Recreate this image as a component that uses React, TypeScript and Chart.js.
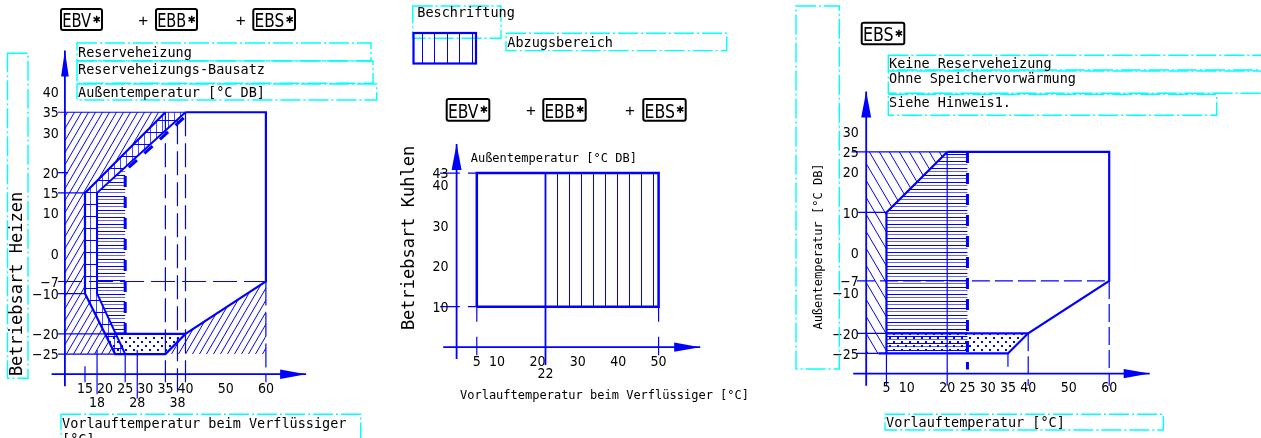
import { useEffect, useRef } from 'react';
import { Chart, registerables } from 'chart.js';

Chart.register(...registerables);

type P = [number, number];

const W = 1261;
const H = 438;
const BLUE = '#0000ff';
const CYAN = '#00ffff';
const MONO = '"DejaVu Sans Mono", "Liberation Mono", monospace';
const NARROW = '"Liberation Sans Narrow", "DejaVu Sans Condensed", sans-serif';

// ---------- Left panel: Betriebsart Heizen (EBV + EBB + EBS) ----------
const heatYTicks = [40, 35, 30, 20, 15, 10, 0, -7, -10, -20, -25];
const heatXTicks = [15, 20, 25, 30, 35, 40, 50, 60];
const heatXTicksLow = [18, 28, 38];
const heatXAxis: P[] = [[6.7, -30], [70, -30]];
const heatYAxis: P[] = [[10, -33], [10, 50.3]];
const heatOutline: P[] = [[35, 35], [15, 15], [15, -10], [22.5, -25], [35, -25], [40, -20], [60, -7], [60, 35], [40, 35]];
const heatInner: P[] = [[40, 35], [18, 15], [18, -10], [25, -25]];
const heatLowLimit: P[] = [[20, -20], [40, -20]];
const heatDashEdge: P[] = [[25, -20], [25, 20.5], [40, 34]];
const heatHatchLeft: P[] = [[10, 35], [35, 35], [15, 15], [15, -10], [22.5, -25], [10, -25]];
const heatHatchRight: P[] = [[40, -20], [60, -7], [60, -25], [35, -25]];
const heatGrid: P[] = [[15, 15], [35, 35], [40, 35], [18, 15], [18, -10], [25, -25], [22.5, -25], [15, -10]];
const heatDense: P[] = [[18, 15], [25, 21.4], [25, -20], [22.7, -20], [18, -10]];
const heatDots: P[] = [[20, -20], [40, -20], [35, -25], [22.5, -25]];
const heatGuides: P[][] = [
  [[8.3, -7], [60, -7]],
  [[35, 35], [35, -32]],
  [[38, 33], [38, -36]],
  [[40, 35], [40, -32]],
  [[60, -7], [60, -32]],
];
const heatTickMarks: P[][] = [
  [[8.3, 35], [40, 35]],
  [[8.3, 20], [10.8, 20]],
  [[8.3, 15], [15, 15]],
  [[8.3, -10], [15, -10]],
  [[8.3, -20], [20, -20]],
  [[8.3, -25], [22.5, -25]],
  [[15, -28], [15, -32]],
  [[18, -24], [18, -35]],
  [[25, -25], [25, -32]],
  [[28, -24], [28, -36]],
];

// ---------- Middle panel: Betriebsart Kuhlen ----------
const coolYTicks = [43, 40, 30, 20, 10];
const coolXTicks = [5, 10, 20, 30, 40, 50];
const coolXTicksLow = [22];
const coolXAxis: P[] = [[-3.3, 0], [60.3, 0]];
const coolYAxis: P[] = [[0, -2.9], [0, 50.2]];
const coolRange: P[] = [[5, 10], [5, 43], [50, 43], [50, 10], [5, 10]];
const coolDeduction: P[] = [[22, 10], [22, 43], [50, 43], [50, 10]];
const coolDivider: P[] = [[22, 43], [22, -4.4]];
const coolTickMarks: P[][] = [
  [[5, 10], [5, 6.3]],
  [[5, 2.6], [5, -2]],
  [[50, 10], [50, 6.3]],
  [[50, 2.6], [50, -2]],
  [[-4.1, 10], [0.8, 10]],
  [[2.8, 10], [5, 10]],
  [[-4.1, 43], [0.8, 43]],
  [[2.8, 43], [5, 43]],
];

// ---------- Right panel: EBS ----------
const ebsYTicks = [30, 25, 20, 10, 0, -7, -10, -20, -25];
const ebsXTicks = [5, 10, 20, 25, 30, 35, 40, 50, 60];
const ebsXAxis: P[] = [[-3.2, -30], [70, -30]];
const ebsYAxis: P[] = [[0, -33], [0, 40]];
const ebsOutline: P[] = [[20, 25], [60, 25], [60, -7], [40, -20], [35, -25], [3, -25]];
const ebsLeftEdge: P[] = [[20, 25], [5, 10], [5, -25]];
const ebsLowLimit: P[] = [[5, -20], [40, -20]];
const ebsDashEdge: P[] = [[25, 25], [25, -29]];
const ebsHatch: P[] = [[0, 25], [20, 25], [5, 10], [5, -25], [0, -25]];
const ebsDense: P[] = [[5, 10], [20, 25], [25, 25], [25, -25], [5, -25]];
const ebsDots: P[] = [[5, -20], [40, -20], [35, -25], [5, -25]];
const ebsGuides: P[][] = [
  [[-2.3, -7], [60, -7]],
  [[40, -20], [40, -33]],
  [[60, -7], [60, -33]],
];
const ebsTickMarks: P[][] = [
  [[-3.6, 25], [20, 25]],
  [[-2, 10], [5, 10]],
  [[-2.3, -20], [5, -20]],
  [[-2.3, -25], [3, -25]],
  [[5, -25], [5, -33]],
  [[20, 25], [20, -33]],
  [[35, -25], [35, -28.3]],
];

// ---------- helpers ----------
const pts = (p: P[]) => p.map(([x, y]) => ({ x, y }));
const segs = (list: P[][]) =>
  list.flatMap((s, i) => [...(i ? [{ x: s[0][0], y: null as any }] : []), ...pts(s)]);

function axisRange(origin: number, perUnit: number, size: number, flip: boolean) {
  return flip
    ? { min: (origin - size) / perUnit, max: origin / perUnit }
    : { min: -origin / perUnit, max: (size - origin) / perUnit };
}

function tile(w: number, h: number, draw: (g: CanvasRenderingContext2D) => void) {
  const c = document.createElement('canvas');
  c.width = w;
  c.height = h;
  const g = c.getContext('2d')!;
  draw(g);
  return g.createPattern(c, 'repeat')!;
}

function makePatterns() {
  const slash = tile(7, 12, (g) => {
    g.strokeStyle = BLUE;
    g.lineWidth = 1;
    g.beginPath();
    for (const dx of [-7, 0, 7]) {
      g.moveTo(dx, 12);
      g.lineTo(dx + 7, 0);
    }
    g.stroke();
  });
  const backslash = tile(10, 17, (g) => {
    g.strokeStyle = BLUE;
    g.lineWidth = 1;
    g.beginPath();
    for (const dx of [-10, 0, 10]) {
      g.moveTo(dx, 0);
      g.lineTo(dx + 10, 17);
    }
    g.stroke();
  });
  const dense = tile(4, 7, (g) => {
    g.fillStyle = BLUE;
    g.fillRect(0, 0, 4, 1);
    g.fillStyle = 'rgba(0,0,255,0.6)';
    g.fillRect(0, 3, 4, 1);
  });
  const grid = tile(6, 12, (g) => {
    g.fillStyle = BLUE;
    g.fillRect(0, 0, 6, 1);
    g.fillStyle = 'rgba(0,0,255,0.7)';
    g.fillRect(0, 0, 1, 12);
  });
  const dots = tile(8, 8, (g) => {
    g.fillStyle = BLUE;
    g.fillRect(1, 1, 2, 2);
    g.fillRect(5, 5, 2, 2);
  });
  const vlines = tile(12, 4, (g) => {
    g.fillStyle = BLUE;
    g.fillRect(0, 0, 1, 4);
  });
  try {
    vlines.setTransform(new DOMMatrix().translate(5, 0));
  } catch (e) {
    /* ignore */
  }
  return { slash, backslash, dense, grid, dots, vlines };
}

function lineDs(data: any[], xAxisID: string, yAxisID: string, width: number, dash: number[] = []) {
  return {
    data,
    xAxisID,
    yAxisID,
    borderColor: BLUE,
    borderWidth: width,
    borderDash: dash,
    pointRadius: 0,
    pointHoverRadius: 0,
    fill: false,
    tension: 0,
    spanGaps: false,
  };
}

function areaDs(poly: P[], xAxisID: string, yAxisID: string, pattern: CanvasPattern) {
  return {
    data: pts(poly),
    xAxisID,
    yAxisID,
    borderColor: 'rgba(0,0,0,0)',
    borderWidth: 1,
    pointRadius: 0,
    pointHoverRadius: 0,
    fill: 'shape',
    backgroundColor: pattern,
    tension: 0,
  };
}

const fmt = (v: number) => (v < 0 ? '\u2212' + Math.abs(v) : String(v));

function dashBox(ctx: CanvasRenderingContext2D, x: number, y: number, w: number, h: number) {
  ctx.save();
  ctx.strokeStyle = CYAN;
  ctx.lineWidth = 1.4;
  ctx.setLineDash([20, 3, 2, 3]);
  ctx.strokeRect(x, y, w, h);
  ctx.restore();
}

function tag(ctx: CanvasRenderingContext2D, x: number, y: number, w: number, h: number, label: string) {
  ctx.save();
  ctx.strokeStyle = '#000';
  ctx.lineWidth = 2;
  ctx.beginPath();
  (ctx as any).roundRect ? (ctx as any).roundRect(x, y, w, h, 2) : ctx.rect(x, y, w, h);
  ctx.stroke();
  ctx.fillStyle = '#000';
  ctx.font = `19px ${NARROW}`;
  ctx.textAlign = 'left';
  ctx.textBaseline = 'alphabetic';
  ctx.fillText(label, x + 1.2, y + h - 3, w - 12);
  ctx.font = `10px "DejaVu Sans", sans-serif`;
  ctx.textBaseline = 'middle';
  ctx.textAlign = 'right';
  ctx.fillText('\u2731', x + w - 1.2, y + h / 2 + 0.5);
  ctx.restore();
}

function txt(ctx: CanvasRenderingContext2D, s: string, x: number, y: number, font: string, align: CanvasTextAlign = 'left') {
  ctx.font = font;
  ctx.textAlign = align;
  ctx.textBaseline = 'alphabetic';
  ctx.fillText(s, x, y);
}

function vtxt(ctx: CanvasRenderingContext2D, s: string, cx: number, cy: number, font: string) {
  ctx.save();
  ctx.translate(cx, cy);
  ctx.rotate(-Math.PI / 2);
  ctx.font = font;
  ctx.textAlign = 'center';
  ctx.textBaseline = 'middle';
  ctx.fillText(s, 0, 0);
  ctx.restore();
}

function arrowUp(ctx: CanvasRenderingContext2D, x: number, y: number, len: number, half: number) {
  ctx.beginPath();
  ctx.moveTo(x, y);
  ctx.lineTo(x - half, y + len);
  ctx.lineTo(x + half, y + len);
  ctx.closePath();
  ctx.fill();
}

function arrowRight(ctx: CanvasRenderingContext2D, x: number, y: number, len: number, half: number) {
  ctx.beginPath();
  ctx.moveTo(x, y);
  ctx.lineTo(x - len, y - half);
  ctx.lineTo(x - len, y + half);
  ctx.closePath();
  ctx.fill();
}

const decor = {
  id: 'decor',
  afterDatasetsDraw(chart: any) {
    const ctx: CanvasRenderingContext2D = chart.ctx;
    const S = chart.scales;
    ctx.save();

    // arrow heads
    ctx.fillStyle = BLUE;
    arrowUp(ctx, S.x.getPixelForValue(heatYAxis[1][0]), S.y.getPixelForValue(heatYAxis[1][1]), 26, 3.8);
    arrowRight(ctx, S.x.getPixelForValue(heatXAxis[1][0]), S.y.getPixelForValue(heatXAxis[1][1]), 26, 4.7);
    arrowUp(ctx, S.x2.getPixelForValue(coolYAxis[1][0]), S.y2.getPixelForValue(coolYAxis[1][1]), 26, 5);
    arrowRight(ctx, S.x2.getPixelForValue(coolXAxis[1][0]), S.y2.getPixelForValue(coolXAxis[1][1]), 26, 4.6);
    arrowUp(ctx, S.x3.getPixelForValue(ebsYAxis[1][0]), S.y3.getPixelForValue(ebsYAxis[1][1]), 26, 5);
    arrowRight(ctx, S.x3.getPixelForValue(ebsXAxis[1][0]), S.y3.getPixelForValue(ebsXAxis[1][1]), 26, 4.7);

    // tick labels
    ctx.fillStyle = '#000';
    const numFont = `14px ${NARROW}`;
    const yLabels = (X: any, Y: any, ticks: number[], axisX: number, off: number) => {
      const px = X.getPixelForValue(axisX) - off;
      for (const v of ticks) txt(ctx, fmt(v), px, Y.getPixelForValue(v) + 5.2, numFont, 'right');
    };
    const xLabels = (X: any, Y: any, ticks: number[], axisY: number, off: number) => {
      const py = Y.getPixelForValue(axisY) + off;
      for (const v of ticks) txt(ctx, fmt(v), X.getPixelForValue(v), py, numFont, 'center');
    };
    yLabels(S.x, S.y, heatYTicks, heatYAxis[0][0], 6.2);
    xLabels(S.x, S.y, heatXTicks, heatXAxis[0][1], 18.4);
    xLabels(S.x, S.y, heatXTicksLow, heatXAxis[0][1], 32.4);
    yLabels(S.x2, S.y2, coolYTicks, coolYAxis[0][0], 8);
    xLabels(S.x2, S.y2, coolXTicks, coolXAxis[0][1], 18.5);
    xLabels(S.x2, S.y2, coolXTicksLow, coolXAxis[0][1], 31);
    yLabels(S.x3, S.y3, ebsYTicks, ebsYAxis[0][0], 7.4);
    xLabels(S.x3, S.y3, ebsXTicks, ebsXAxis[0][1], 18.4);

    // ---- left panel annotations ----
    tag(ctx, 61, 9, 41, 21, 'EBV');
    txt(ctx, '+', 143.3, 26, `17px "Liberation Sans", sans-serif`, 'center');
    tag(ctx, 156, 9, 41, 21, 'EBB');
    txt(ctx, '+', 240.7, 26, `17px "Liberation Sans", sans-serif`, 'center');
    tag(ctx, 253.3, 9, 41.7, 21, 'EBS');

    const mono135 = `13.5px ${MONO}`;
    dashBox(ctx, 77, 43, 294, 17.7);
    dashBox(ctx, 77, 61, 296, 22.3);
    dashBox(ctx, 77, 84, 299.7, 16);
    txt(ctx, 'Reserveheizung', 78, 56.7, mono135);
    txt(ctx, 'Reserveheizungs-Bausatz', 78, 74, mono135);
    txt(ctx, 'Außentemperatur [°C DB]', 78, 97.3, mono135);
    dashBox(ctx, 7.5, 53.3, 20.5, 325);
    vtxt(ctx, 'Betriebsart Heizen', 17.5, 284, `17px ${MONO}`);
    dashBox(ctx, 61, 414.3, 299.7, 30);
    txt(ctx, 'Vorlauftemperatur beim Verflüssiger', 62, 428.3, mono135);
    txt(ctx, '[°C]', 62, 444.3, mono135);

    // ---- middle panel annotations ----
    dashBox(ctx, 412.7, 6, 88.3, 32.3);
    txt(ctx, 'Beschriftung', 417.3, 17.3, mono135);
    ctx.save();
    ctx.strokeStyle = BLUE;
    ctx.lineWidth = 1;
    ctx.beginPath();
    for (const lx of [421.7, 434.3, 446.7, 459, 471.7]) {
      ctx.moveTo(Math.round(lx) + 0.5, 32.3);
      ctx.lineTo(Math.round(lx) + 0.5, 64);
    }
    ctx.stroke();
    ctx.lineWidth = 2.2;
    ctx.strokeRect(413.5, 33, 62.5, 30.5);
    ctx.restore();
    dashBox(ctx, 506, 33.3, 220.7, 17.3);
    txt(ctx, 'Abzugsbereich', 507.3, 46.7, mono135);

    tag(ctx, 446.7, 99, 42.6, 21.7, 'EBV');
    txt(ctx, '+', 531, 116, `17px "Liberation Sans", sans-serif`, 'center');
    tag(ctx, 543.3, 99, 42.4, 21.7, 'EBB');
    txt(ctx, '+', 630, 116, `17px "Liberation Sans", sans-serif`, 'center');
    tag(ctx, 643.3, 99, 42.4, 21.7, 'EBS');

    txt(ctx, 'Außentemperatur [°C DB]', 470.7, 161.7, `12px ${MONO}`);
    vtxt(ctx, 'Betriebsart Kuhlen', 410, 238, `17px ${MONO}`);
    txt(ctx, 'Vorlauftemperatur beim Verflüssiger [°C]', 460, 399, `12px ${MONO}`);

    // ---- right panel annotations ----
    dashBox(ctx, 796, 6, 43.3, 363);
    vtxt(ctx, 'Außentemperatur [°C DB]', 818.5, 246.5, `12px ${MONO}`);
    tag(ctx, 861.7, 22.7, 42.6, 21.6, 'EBS');
    dashBox(ctx, 888.3, 55.3, 385, 14.7);
    dashBox(ctx, 888.3, 71, 385, 22.3);
    dashBox(ctx, 888.3, 94.3, 328.4, 21);
    txt(ctx, 'Keine Reserveheizung', 889, 67.7, mono135);
    txt(ctx, 'Ohne Speichervorwärmung', 889, 82.7, mono135);
    txt(ctx, 'Siehe Hinweis1.', 889, 106.7, mono135);
    dashBox(ctx, 885, 414.3, 278.3, 15.7);
    txt(ctx, 'Vorlauftemperatur [°C]', 886, 426.7, mono135);

    ctx.restore();
  },
};

export default function App() {
  const ref = useRef<HTMLCanvasElement>(null);

  useEffect(() => {
    const canvas = ref.current!;
    const pat = makePatterns();
    const lin = (axis: 'x' | 'y', r: { min: number; max: number }) => ({
      type: 'linear' as const,
      axis,
      display: false,
      bounds: 'data' as const,
      min: r.min,
      max: r.max,
    });

    const datasets: any[] = [
      // left panel
      lineDs(pts(heatOutline), 'x', 'y', 2.2),
      lineDs(pts(heatInner), 'x', 'y', 2),
      lineDs(pts(heatLowLimit), 'x', 'y', 2.2),
      lineDs(pts(heatDashEdge), 'x', 'y', 3, [11, 10]),
      lineDs(segs(heatGuides), 'x', 'y', 1.2, [24, 7]),
      lineDs(segs(heatTickMarks), 'x', 'y', 1.2),
      lineDs(segs([heatXAxis, heatYAxis]), 'x', 'y', 1.8),
      areaDs(heatDots, 'x', 'y', pat.dots),
      areaDs(heatDense, 'x', 'y', pat.dense),
      areaDs(heatGrid, 'x', 'y', pat.grid),
      areaDs(heatHatchLeft, 'x', 'y', pat.slash),
      areaDs(heatHatchRight, 'x', 'y', pat.slash),
      // middle panel
      lineDs(pts(coolRange), 'x2', 'y2', 2.5),
      lineDs(pts(coolDivider), 'x2', 'y2', 1.8),
      lineDs(segs(coolTickMarks), 'x2', 'y2', 1.2),
      lineDs(segs([coolXAxis, coolYAxis]), 'x2', 'y2', 1.8),
      areaDs(coolDeduction, 'x2', 'y2', pat.vlines),
      // right panel
      lineDs(pts(ebsOutline), 'x3', 'y3', 2.2),
      lineDs(pts(ebsLeftEdge), 'x3', 'y3', 2.2),
      lineDs(pts(ebsLowLimit), 'x3', 'y3', 2.2),
      lineDs(pts(ebsDashEdge), 'x3', 'y3', 3, [11, 10]),
      lineDs(segs(ebsGuides), 'x3', 'y3', 1.2, [18, 5]),
      lineDs(segs(ebsTickMarks), 'x3', 'y3', 1.2),
      lineDs(segs([ebsXAxis, ebsYAxis]), 'x3', 'y3', 1.8),
      areaDs(ebsDots, 'x3', 'y3', pat.dots),
      areaDs(ebsDense, 'x3', 'y3', pat.dense),
      areaDs(ebsHatch, 'x3', 'y3', pat.backslash),
    ];

    const chart = new Chart(canvas, {
      type: 'line',
      data: { datasets },
      options: {
        animation: false,
        responsive: false,
        maintainAspectRatio: false,
        events: [],
        layout: { padding: 0 },
        plugins: {
          legend: { display: false },
          title: { display: false },
          tooltip: { enabled: false },
          filler: { drawTime: 'beforeDatasetsDraw' },
        },
        scales: {
          x: lin('x', axisRange(24.7, 4.02, W, false)),
          y: lin('y', axisRange(253.3, 4.03, H, true)),
          x2: lin('x', axisRange(456.6, 4.04, W, false)),
          y2: lin('y', axisRange(347.2, 4.05, H, true)),
          x3: lin('x', axisRange(866.2, 4.05, W, false)),
          y3: lin('y', axisRange(252.7, 4.03, H, true)),
        },
      } as any,
      plugins: [decor],
    });
    return () => chart.destroy();
  }, []);

  return (
    <canvas
      ref={ref}
      width={W}
      height={H}
      style={{ position: 'absolute', left: 0, top: 0, display: 'block' }}
    />
  );
}
